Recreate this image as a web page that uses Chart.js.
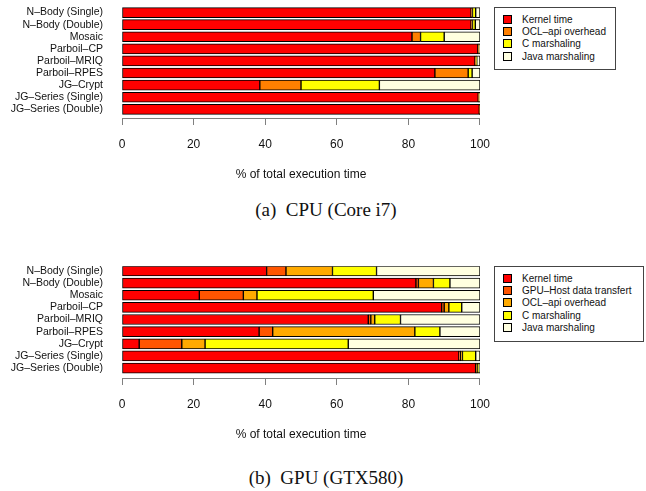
<!DOCTYPE html>
<html>
<head>
<meta charset="utf-8">
<script src="https://cdn.jsdelivr.net/npm/chart.js@4"></script>
<style>
  body { margin: 0; background: #fff; width: 646px; height: 491px; position: relative; overflow: hidden; }
  canvas { position: absolute; left: 0; }
  .caption { position: absolute; left: 0; width: 652px; text-align: center; font-family: "Liberation Serif", serif; font-size: 19px; color: #111; white-space: pre; }
  .legend { position: absolute; border: 1px solid #444; background: #fff; font-family: "Liberation Sans", sans-serif; font-size: 10px; color: #111; padding: 6px 6px 4px 8px; box-sizing: border-box; }
  .legend div { height: 12.2px; line-height: 12px; white-space: nowrap; }
  .legend span { display: inline-block; width: 7px; height: 7px; border: 1px solid #000; margin-right: 10px; vertical-align: -1px; }
</style>
</head>
<body>
<canvas id="cpu" width="502" height="192" style="top:0"></canvas>
<canvas id="gpu" width="502" height="192" style="top:260px"></canvas>
<div class="caption" style="top:199px">(a)  CPU (Core i7)</div>
<div class="caption" style="top:467px">(b)  GPU (GTX580)</div>
<div class="legend" id="cpuLegend" style="left:494px; top:7px; width:122px; height:63px"></div>
<div class="legend" id="gpuLegend" style="left:494px; top:266px; width:150px; height:76px"></div>
<script>
const benchmarks = ['N–Body (Single)', 'N–Body (Double)', 'Mosaic', 'Parboil–CP', 'Parboil–MRIQ',
  'Parboil–RPES', 'JG–Crypt', 'JG–Series (Single)', 'JG–Series (Double)'];
const xTicks = [0, 20, 40, 60, 80, 100];

// CPU (Core i7), % of total execution time
const cpuKernel = [97.5, 97.5, 81.0, 99.4, 98.6, 87.4, 38.5, 99.5, 99.8];
const cpuOcl    = [0.4, 0.4, 2.4, 0.2, 0.3, 9.3, 11.5, 0.2, 0.1];
const cpuC      = [0.9, 0.8, 6.6, 0.2, 0.2, 1.1, 21.9, 0.1, 0.05];
const cpuJava   = [1.2, 1.3, 10.0, 0.2, 0.9, 2.2, 28.1, 0.2, 0.05];

// GPU (GTX580)
const gpuKernel   = [40.4, 82.1, 21.6, 89.3, 68.8, 38.3, 4.8, 94.1, 98.8];
const gpuTransfer = [5.4, 0.7, 12.3, 0.7, 0.7, 3.8, 11.9, 0.4, 0.2];
const gpuOcl      = [13.0, 4.2, 3.8, 1.3, 1.1, 39.7, 6.5, 0.6, 0.2];
const gpuC        = [12.3, 4.6, 32.5, 3.6, 7.2, 7.0, 40.0, 3.7, 0.6];
const gpuJava     = [28.9, 8.4, 29.8, 5.1, 22.2, 11.2, 36.8, 1.2, 0.2];

const cpuSeries = [
  { label: 'Kernel time', data: cpuKernel, color: '#ff0000' },
  { label: 'OCL–api overhead', data: cpuOcl, color: '#ff8000' },
  { label: 'C marshaling', data: cpuC, color: '#ffff00' },
  { label: 'Java marshaling', data: cpuJava, color: '#ffffe0' },
];
const gpuSeries = [
  { label: 'Kernel time', data: gpuKernel, color: '#ff0000' },
  { label: 'GPU–Host data transfert', data: gpuTransfer, color: '#ff5500' },
  { label: 'OCL–api overhead', data: gpuOcl, color: '#ffaa00' },
  { label: 'C marshaling', data: gpuC, color: '#ffff00' },
  { label: 'Java marshaling', data: gpuJava, color: '#ffffe0' },
];

const sans = 'Liberation Sans, Arial, sans-serif';

function buildChart(id, series, yMin, yMax) {
  return new Chart(document.getElementById(id), {
    type: 'bar',
    data: {
      datasets: series.map(s => ({
        label: s.label,
        data: s.data.map((v, i) => ({ x: v, y: i })),
        backgroundColor: s.color,
        borderColor: '#000',
        borderWidth: 1,
        borderSkipped: false,
        barThickness: 10,
        stack: 'all',
      })),
    },
    options: {
      indexAxis: 'y',
      responsive: false,
      animation: false,
      layout: { padding: 0 },
      plugins: { legend: { display: false }, tooltip: { enabled: false } },
      scales: {
        x: {
          type: 'linear',
          stacked: true,
          min: 0,
          max: 100,
          afterBuildTicks: s => { s.ticks = xTicks.map(v => ({ value: v })); },
          afterFit: s => { s.height = 74; },
          grid: { drawOnChartArea: false, color: '#808080', tickLength: 7 },
          border: { color: '#808080' },
          ticks: { color: '#111', font: { family: sans, size: 12 }, padding: 12 },
          title: { display: true, text: '% of total execution time', color: '#111',
                   font: { family: sans, size: 12 }, padding: { top: 0, bottom: 10 } },
        },
        y: {
          type: 'linear',
          reverse: true,
          offset: false,
          min: yMin,
          max: yMax,
          afterBuildTicks: s => { s.ticks = benchmarks.map((b, i) => ({ value: i })); },
          afterFit: s => { s.width = 122; },
          // invisible tick marks give the gap between labels and bars
          grid: { display: true, offset: false, drawOnChartArea: false, drawTicks: true, tickLength: 19, color: 'rgba(0,0,0,0)' },
          border: { display: false },
          ticks: { color: '#111', font: { family: sans, size: 10.5 }, padding: 0, autoSkip: false,
                   callback: v => benchmarks[v] },
        },
      },
    },
  });
}

function buildLegend(id, series) {
  const box = document.getElementById(id);
  series.forEach(s => {
    const row = document.createElement('div');
    row.innerHTML = '<span style="background:' + s.color + '"></span>' + s.label;
    box.appendChild(row);
  });
}

buildChart('cpu', cpuSeries, -0.52, 8.72);
buildChart('gpu', gpuSeries, -0.39, 8.82);
buildLegend('cpuLegend', cpuSeries);
buildLegend('gpuLegend', gpuSeries);
</script>
</body>
</html>
